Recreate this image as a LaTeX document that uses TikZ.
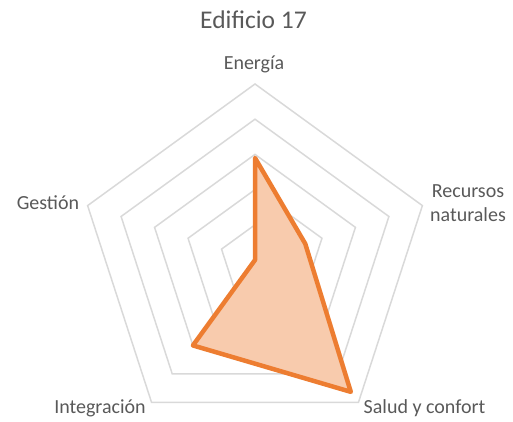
\documentclass[tikz,border=0pt]{standalone}
\usepackage{fontspec}
\setmainfont{Carlito}
\definecolor{gridgray}{HTML}{D9D9D9}
\definecolor{labelgray}{HTML}{595959}
\definecolor{dataorange}{HTML}{ED7D31}
\begin{document}
\begin{tikzpicture}[x=1pt,y=1pt,
  grid/.style={color=gridgray, line width=1.5pt},
  axislabel/.style={text=labelgray, font=\fontsize{20}{24}\selectfont, inner sep=0pt, anchor=base, align=center},
  series/.style={draw=dataorange, fill=dataorange!40, line width=4.5pt, line join=round}]

\useasboundingbox (0,0) rectangle (513,422);

\node[axislabel, font=\fontsize{25.5}{30}\selectfont] (title) at (253.5,393.7) {Edificio 17};

 \begin{scope}[shift={(255,162)}, x=35.2pt, y=35.2pt]
  \foreach \r in {1,...,5}
   \draw[grid] (90:\r) -- (18:\r) -- (-54:\r) -- (-126:\r) -- (162:\r) -- cycle;
  \filldraw[series] (90:2.9) -- (18:1.5) -- (-54:4.63) -- (-126:3) -- (162:0) -- cycle;
 \end{scope}

\node[axislabel] (energia) at (254,352) {Energía};
\node[axislabel] (recursos) at (468,200.3) {Recursos\\naturales};
\node[axislabel] (salud) at (424.5,8.7) {Salud y confort};
\node[axislabel] (integracion) at (100,8.7) {Integración};
\node[axislabel] (gestion) at (48,212.5) {Gestión};

\end{tikzpicture}
\end{document}
